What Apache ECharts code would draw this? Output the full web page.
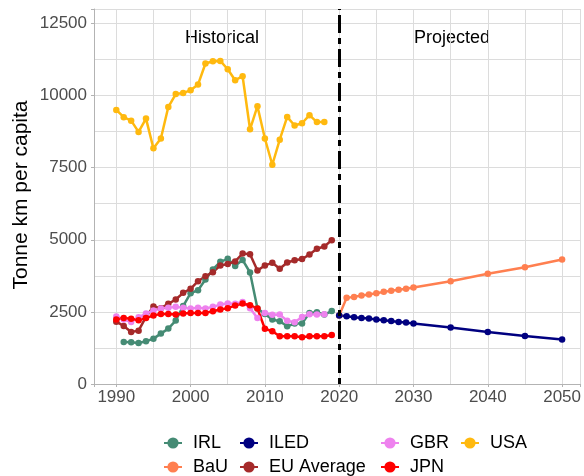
<!DOCTYPE html>
<html>
<head>
<meta charset="utf-8">
<title>Tonne km per capita</title>
<script src="https://cdn.jsdelivr.net/npm/echarts@6/dist/echarts.min.js"></script>
<style>
  html, body { margin: 0; padding: 0; background: #fff; }
  #main { width: 584px; height: 476px; }
</style>
</head>
<body>
<div id="main"></div>
<script>
// years + values
const irlYears = [1991,1992,1993,1994,1995,1996,1997,1998,1999,2000,2001,2002,2003,2004,2005,2006,2007,2008,2009,2010,2011,2012,2013,2014,2015,2016,2017,2018,2019];
const irlValues = [1458,1445,1424,1480,1573,1747,1920,2200,2700,3150,3250,3620,3970,4236,4340,4095,4300,3865,2620,2430,2233,2174,2000,2094,2094,2465,2486,2406,2530];

const histYears = [1990,1991,1992,1993,1994,1995,1996,1997,1998,1999,2000,2001,2002,2003,2004,2005,2006,2007,2008,2009,2010,2011,2012,2013,2014,2015,2016,2017,2018,2019];
const euValues = [2160,2010,1806,1850,2326,2690,2630,2780,2930,3160,3300,3563,3736,3875,4110,4160,4250,4520,4500,3934,4110,4201,3993,4210,4290,4330,4490,4688,4765,4986];
const jpnValues = [2233,2292,2260,2210,2292,2372,2430,2430,2406,2440,2465,2465,2465,2520,2580,2630,2719,2790,2730,2615,1915,1830,1653,1653,1653,1618,1653,1653,1653,1700];

const gbrYears = [1990,1991,1992,1993,1994,1995,1996,1997,1998,1999,2000,2001,2002,2003,2004,2005,2006,2007,2008,2009,2010,2011,2012,2013,2014,2015,2016,2017,2018];
const gbrValues = [2340,2240,2150,2313,2440,2545,2615,2640,2674,2640,2615,2640,2615,2674,2753,2790,2780,2840,2630,2292,2465,2400,2406,2190,2140,2326,2420,2406,2420];
const usaValues = [9500,9250,9130,8740,9200,8170,8510,9600,10050,10090,10180,10380,11110,11190,11200,10910,10530,10670,8830,9630,8510,7600,8470,9260,8960,9040,9320,9080,9080];

const projYears = [2020,2021,2022,2023,2024,2025,2026,2027,2028,2029,2030,2035,2040,2045,2050];
const bauValues = [2372,2986,3020,3066,3100,3146,3194,3229,3264,3300,3344,3563,3819,4049,4316];
const iledValues = [2372,2347,2313,2292,2267,2233,2210,2187,2153,2128,2094,1955,1806,1667,1544];

const xTicks = [1990,2000,2010,2020,2030,2040,2050];
const yTicks = [0,2500,5000,7500,10000,12500];

const FONT = 'Liberation Sans, Arial, Helvetica, sans-serif';

function pairs(xs, ys) {
  return xs.map((x, i) => [x, ys[i]]);
}

function lineSeries(name, color, data) {
  return {
    name: name,
    type: 'line',
    data: data,
    symbol: 'circle',
    symbolSize: 6.5,
    itemStyle: { color: color },
    lineStyle: { color: color, width: 2.5 },
    emphasis: { disabled: true }
  };
}

// one legend per entry so the 2-row, column-first layout matches
function legendItem(name, left, top) {
  return {
    left: left,
    top: top,
    padding: 0,
    itemWidth: 18,
    itemHeight: 14,
    selectedMode: false,
    data: [name],
    textStyle: { fontSize: 18, lineHeight: 18, color: '#000', fontFamily: FONT, padding: [0, 0, 0, 6] }
  };
}

let myChart = echarts.init(document.querySelector('#main'));

const series = [
  lineSeries('IRL', '#458B74', pairs(irlYears, irlValues)),
  lineSeries('BaU', '#FF7F50', pairs(projYears, bauValues)),
  lineSeries('ILED', '#000080', pairs(projYears, iledValues)),
  lineSeries('EU Average', '#A52A2A', pairs(histYears, euValues)),
  lineSeries('GBR', '#EE82EE', pairs(gbrYears, gbrValues)),
  lineSeries('JPN', '#FF0000', pairs(histYears, jpnValues)),
  lineSeries('USA', '#FFB90F', pairs(gbrYears, usaValues))
];

// dashed divider between historical and projected
series[2].markLine = {
  silent: true,
  symbol: 'none',
  label: { show: false },
  lineStyle: { color: '#000', width: 3, type: [6, 5, 18, 5] },
  data: [{ xAxis: 2020 }]
};

let option = {
  animation: false,
  backgroundColor: '#fff',
  grid: { left: 94, top: 9, right: 0, height: 375, containLabel: false },
  legend: [
    legendItem('IRL', 163, 434),
    legendItem('BaU', 163, 458),
    legendItem('ILED', 239, 434),
    legendItem('EU Average', 239, 458),
    legendItem('GBR', 380, 434),
    legendItem('JPN', 380, 458),
    legendItem('USA', 460, 434)
  ],
  graphic: [
    { type: 'text', x: 222, y: 38, style: { text: 'Historical', fontSize: 18, fontFamily: FONT, fill: '#000', align: 'center', verticalAlign: 'middle' } },
    { type: 'text', x: 452, y: 38, style: { text: 'Projected', fontSize: 18, fontFamily: FONT, fill: '#000', align: 'center', verticalAlign: 'middle' } },
    { type: 'text', x: 21, y: 195, rotation: Math.PI / 2, style: { text: 'Tonne km per capita', fontSize: 21, fontFamily: FONT, fill: '#000', align: 'center', verticalAlign: 'middle' } }
  ],
  xAxis: {
    type: 'value',
    min: 1987,
    max: 2052.5,
    minInterval: 10,
    maxInterval: 10,
    axisLine: { show: true, onZero: false, lineStyle: { color: '#b3b3b3', width: 1 } },
    axisTick: { show: true, length: 3, lineStyle: { color: '#b3b3b3' } },
    axisLabel: {
      margin: 5,
      fontSize: 17,
      fontFamily: FONT,
      color: '#4d4d4d',
      formatter: v => (xTicks.indexOf(v) >= 0 ? String(v) : '')
    },
    splitLine: { show: true, lineStyle: { color: '#dcdcdc', width: 1 } },
    minorTick: { show: false, splitNumber: 2 },
    minorSplitLine: { show: true, lineStyle: { color: '#dcdcdc', width: 1 } }
  },
  yAxis: {
    type: 'value',
    min: 0,
    max: 13000,
    interval: 2500,
    axisLine: { show: true, lineStyle: { color: '#b3b3b3', width: 1 } },
    axisTick: { show: true, length: 3, lineStyle: { color: '#b3b3b3' } },
    axisLabel: {
      margin: 7,
      fontSize: 17,
      fontFamily: FONT,
      color: '#4d4d4d',
      formatter: v => (yTicks.indexOf(v) >= 0 ? String(v) : '')
    },
    splitLine: { show: true, lineStyle: { color: '#dcdcdc', width: 1 } },
    minorTick: { show: false, splitNumber: 2 },
    minorSplitLine: { show: true, lineStyle: { color: '#dcdcdc', width: 1 } }
  },
  series: series
};

myChart.setOption(option);
</script>
</body>
</html>
